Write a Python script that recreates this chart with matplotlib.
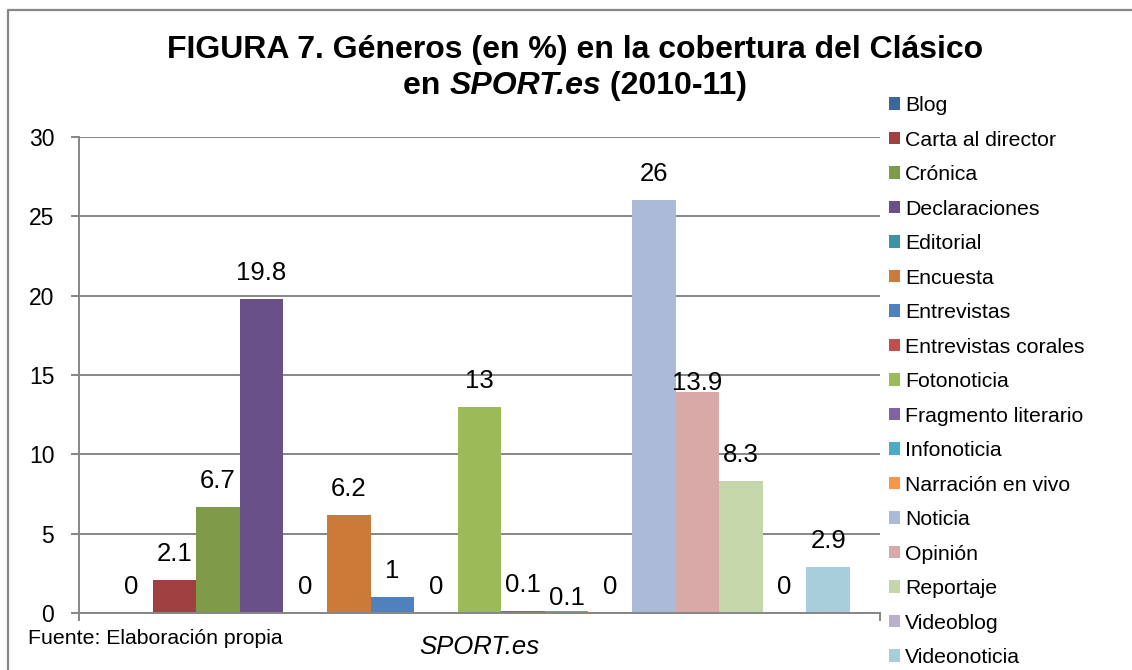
import matplotlib
matplotlib.use("Agg")
import matplotlib.pyplot as plt
from matplotlib.lines import Line2D
import numpy as np

plt.rcParams['font.family'] = ['Liberation Sans', 'DejaVu Sans']

# ---- data ----
series_names = ["Blog", "Carta al director", "Crónica", "Declaraciones", "Editorial",
                "Encuesta", "Entrevistas", "Entrevistas corales", "Fotonoticia",
                "Fragmento literario", "Infonoticia", "Narración en vivo", "Noticia",
                "Opinión", "Reportaje", "Videoblog", "Videonoticia"]
values = [0, 2.1, 6.7, 19.8, 0, 6.2, 1, 0, 13, 0.1, 0.1, 0, 26, 13.9, 8.3, 0, 2.9]
category = "SPORT.es"
y_ticks = [0, 5, 10, 15, 20, 25, 30]

# ---- style ----
colors = ["#3C679E", "#9E4140", "#7F9A49", "#6A5088", "#3C93A7", "#CC7A38",
          "#4F81BD", "#C0504D", "#9BBB59", "#8064A2", "#4BACC6", "#F79646",
          "#AABAD7", "#D9A9A8", "#C6D6AB", "#BAB0CA", "#A8CDDB"]
label_offset_px = [26] * len(values)
label_offset_px[10] = 13   # Infonoticia label nudged down
label_offset_px[13] = 9    # Opinión label nudged down

W, H = 1132, 670
DPI = 100
fig = plt.figure(figsize=(W / DPI, H / DPI), dpi=DPI)
fig.patch.set_facecolor("white")

ax_l, ax_r, ax_b, ax_t = 79, 880, 613, 137
ax = fig.add_axes([ax_l / W, 1 - ax_b / H, (ax_r - ax_l) / W, (ax_b - ax_t) / H])

grid_c = "#868686"
x = np.arange(len(values))
bars = []
for i, (v, c, n) in enumerate(zip(values, colors, series_names)):
    b = ax.bar(x[i], v, width=1.0, color=c, label=n, zorder=3)
    bars.append(b)

pad = 0.69
ax.set_xlim(-0.5 - pad, len(values) - 0.5 + pad)
ax.set_ylim(0, 30)

px_to_pt = 72 / DPI
for i, v in enumerate(values):
    ax.annotate(f"{v:g}", (x[i], v), xytext=(0, label_offset_px[i] * px_to_pt),
                textcoords="offset points", ha="center", va="center",
                fontsize=18.5, color="black", zorder=5)

# grid & spines
ax.set_yticks(y_ticks)
ax.yaxis.grid(True, color=grid_c, linewidth=1.4, zorder=0)
for s in ["top", "right"]:
    ax.spines[s].set_visible(False)
for s in ["left", "bottom"]:
    ax.spines[s].set_color(grid_c)
    ax.spines[s].set_linewidth(1.4)
ax.spines["bottom"].set_zorder(4)
ax.tick_params(axis="y", length=8 * px_to_pt, width=1.4, color=grid_c,
               labelsize=16.5, pad=12)
# x axis: boundary ticks + centered category label
ax.set_xticks([-0.5 - pad, len(values) - 0.5 + pad])
ax.set_xticklabels(["", ""])
ax.tick_params(axis="x", which="major", length=8 * px_to_pt, width=1.4, color=grid_c)
ax.set_xticks([(len(values) - 1) / 2], minor=True)
ax.set_xticklabels([category], minor=True, fontsize=18.5, style="italic")
ax.tick_params(axis="x", which="minor", length=0, pad=16)

# title
TS = 23
fig.text(575 / W, 1 - 50 / H, "FIGURA 7. Géneros (en %) en la cobertura del Clásico",
         ha="center", va="center", fontsize=TS, fontweight="bold")
# second line built from pieces (italic part)
parts = [("en ", "normal"), ("SPORT.es", "italic"), (" (2010-11)", "normal")]
renderer = fig.canvas.get_renderer()
texts = []
for s, st in parts:
    t = fig.text(0, 1 - 86 / H, s, ha="left", va="center", fontsize=TS,
                 fontweight="bold", style=st)
    texts.append(t)
widths = [t.get_window_extent(renderer).width for t in texts]
total = sum(widths)
xpos = 575 - total / 2
for t, w in zip(texts, widths):
    t.set_x(xpos / W)
    xpos += w

# source
fig.text(28 / W, 1 - 644 / H, "Fuente: Elaboración propia", ha="left", va="baseline",
         fontsize=15.3)

# legend
leg = fig.legend(handles=[b for b in bars], labels=series_names,
                 loc="upper left", bbox_to_anchor=(889 / W, 1 - 96 / H),
                 frameon=False, fontsize=15.3, handlelength=0.52, handleheight=0.52,
                 handletextpad=0.25, labelspacing=0.73, borderpad=0, borderaxespad=0)

# outer chart border
fig.add_artist(Line2D([8 / W, 8 / W, 1.0], [0.0, 1 - 10 / H, 1 - 10 / H],
                      transform=fig.transFigure, color="#878787", linewidth=1.6))

fig.savefig("out.png", dpi=DPI)
